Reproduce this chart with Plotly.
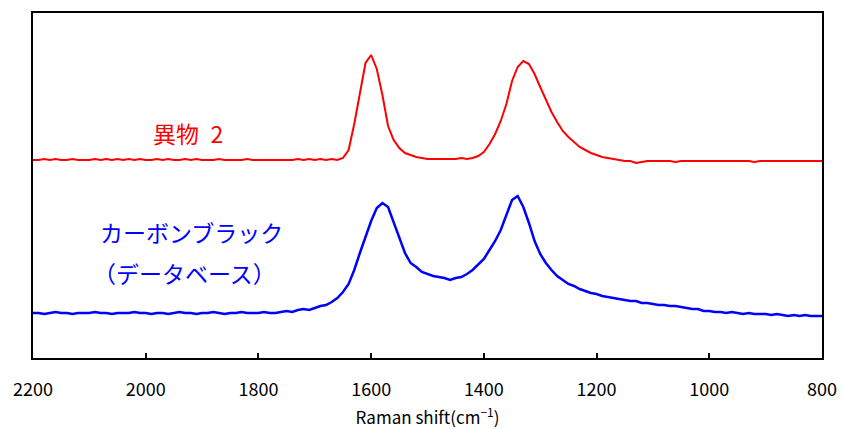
import plotly.graph_objects as go

# Raman shift sampling (cm^-1), high to low
wavenumber = list(range(2200, 790, -10))

# 異物 2 (red) intensity, arbitrary units
foreign2 = [
    198, 198, 199, 198, 199, 198, 198, 199, 198, 198,
    198, 199, 198, 199, 198, 199, 198, 199, 198, 199,
    198, 198, 199, 198, 199, 198, 198, 199, 198, 199,
    198, 198, 198, 199, 198, 198, 198, 198, 199, 198,
    198, 198, 198, 198, 198, 198, 198, 199, 198, 199,
    198, 199, 198, 199, 198,
    200, 208, 234, 265, 295, 303, 289, 263, 232, 218,
    210, 205, 203, 201, 200, 199, 199, 199, 199, 199,
    199, 200, 199, 200, 202, 206, 214, 224, 237, 254,
    277, 291, 297, 294, 284, 271, 258, 246, 236, 227,
    221, 216, 211, 208, 205, 203, 201, 200, 199, 198,
    197, 197, 195, 196, 197,
    197, 197, 197, 197, 196, 197, 197, 197, 197, 197,
    197, 197, 197, 197, 197, 197, 197, 197, 196, 197,
    197, 197, 197, 197, 197, 197, 197, 197, 197, 197,
    197,
]

# カーボンブラック (database) (blue) intensity, arbitrary units
carbon_black = [
    45, 45, 44, 45, 46, 45, 45, 44, 45, 45,
    45, 46, 45, 45, 44, 45, 45, 45, 46, 45,
    45, 44, 45, 45, 44, 45, 46, 45, 45, 44,
    45, 45, 46, 45, 44, 45, 45, 46, 45, 45,
    45, 46, 45, 45,
    46, 47, 46, 48, 49, 48, 50, 52, 53, 56,
    60, 66, 74, 88, 105, 121, 137, 150, 155, 151,
    136, 119, 105, 95, 91, 86, 84, 82, 81, 80,
    78, 80, 81, 84, 88, 93, 99, 108, 117, 128,
    143, 158, 162, 151, 135, 117, 104, 95, 88, 82,
    78, 74, 72, 69, 67, 65, 64, 62, 61, 60,
    59, 58, 57, 57, 55, 55, 54, 53, 53, 52,
    52, 51, 50, 49, 49, 47, 47, 46, 46, 45,
    46, 45, 44, 45, 44, 44, 44, 43, 44, 43,
    42, 43, 42, 43, 42, 42, 42,
]

x_ticks = [2200, 2000, 1800, 1600, 1400, 1200, 1000, 800]

assert len(foreign2) == len(wavenumber), (len(foreign2), len(wavenumber))
assert len(carbon_black) == len(wavenumber), (len(carbon_black), len(wavenumber))

fig = go.Figure()
fig.add_trace(go.Scatter(x=wavenumber, y=foreign2, mode="lines",
                         line=dict(color="#FF0000", width=2), showlegend=False))
fig.add_trace(go.Scatter(x=wavenumber, y=carbon_black, mode="lines",
                         line=dict(color="#0000FF", width=2.5), showlegend=False))

jp = "Noto Sans CJK JP"
fig.add_annotation(text="異物\u20022", xref="paper", yref="paper", x=0.149, y=0.652,
                   xanchor="left", yanchor="middle", showarrow=False,
                   font=dict(family=jp, size=23, color="#FF0000"))
fig.add_annotation(text="カーボンブラック", xref="paper", yref="paper", x=0.083, y=0.365,
                   xanchor="left", yanchor="middle", showarrow=False,
                   font=dict(family=jp, size=23, color="#0000FF"))
fig.add_annotation(text="（データベース）", xref="paper", yref="paper", x=0.073, y=0.246,
                   xanchor="left", yanchor="middle", showarrow=False,
                   font=dict(family=jp, size=23, color="#0000FF"))

fig.update_layout(
    width=843, height=429,
    margin=dict(l=33, r=21, t=13, b=71),
    paper_bgcolor="white", plot_bgcolor="white",
    font=dict(family=jp, color="black"),
)
fig.update_xaxes(
    range=[2200, 800], tickvals=x_ticks, ticktext=[str(v) for v in x_ticks],
    automargin=False,
    ticks="inside", ticklen=5, tickwidth=1.5, tickcolor="black",
    showline=True, linecolor="black", linewidth=2, mirror=True,
    showgrid=False, zeroline=False,
    tickfont=dict(family=jp, size=18, color="black"),
    ticklabelstandoff=14,
    title=dict(text="Raman shift(cm<sup>−1</sup>)", font=dict(family=jp, size=17, color="black"),
               standoff=16),
)
fig.update_yaxes(
    range=[0, 345], showticklabels=False, ticks="", automargin=False,
    showline=True, linecolor="black", linewidth=2, mirror=True,
    showgrid=False, zeroline=False,
)

fig.write_html(
    "out.html",
    config={"displayModeBar": False},
    post_script="document.body.style.margin='0';document.body.style.overflow='hidden';",
)
